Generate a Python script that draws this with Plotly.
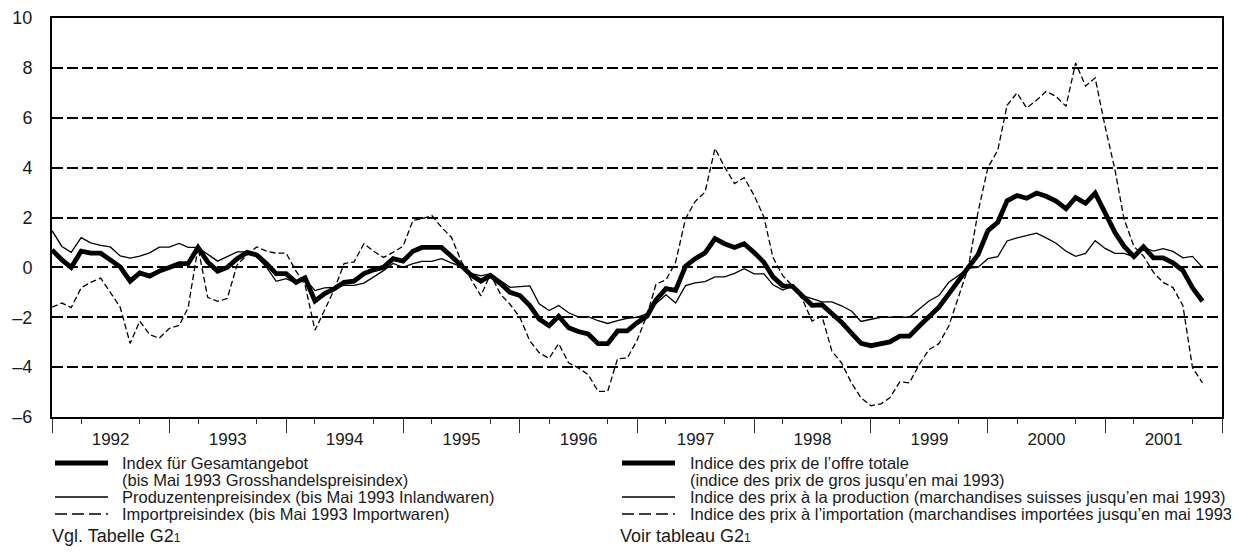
import pandas as pd
import plotly.graph_objects as go

# ---------------- data (monthly, Jan 1992 - Nov 2001, % change vs. previous year) -------------
start_month = "1992-01-01"

gesamtangebot = [
    0.70, 0.30, 0.00, 0.65, 0.57, 0.57, 0.30, 0.02, -0.55, -0.22, -0.35, -0.15,
    0.00, 0.15, 0.15, 0.80, 0.22, -0.15, 0.00, 0.35, 0.60, 0.50, 0.15, -0.25,
    -0.25, -0.60, -0.42, -1.35, -1.05, -0.85, -0.60, -0.55, -0.25, -0.10, 0.00, 0.35,
    0.25, 0.65, 0.80, 0.80, 0.80, 0.45, 0.05, -0.30, -0.55, -0.32, -0.65, -1.00,
    -1.13, -1.53, -2.07, -2.34, -1.96, -2.42, -2.57, -2.67, -3.06, -3.06, -2.55, -2.55,
    -2.22, -1.95, -1.30, -0.85, -0.92, 0.05, 0.35, 0.58, 1.15, 0.95, 0.80, 0.95,
    0.60, 0.20, -0.38, -0.74, -0.76, -1.18, -1.52, -1.50, -1.83, -2.20, -2.64, -3.05,
    -3.14, -3.06, -2.99, -2.76, -2.76, -2.35, -1.95, -1.60, -1.06, -0.50, 0.00, 0.50,
    1.47, 1.81, 2.67, 2.88, 2.77, 2.98, 2.85, 2.66, 2.35, 2.80, 2.57, 2.98,
    2.21, 1.40, 0.85, 0.43, 0.83, 0.38, 0.38, 0.18, -0.13, -0.82, -1.36,
]

produzenten = [
    1.47, 0.84, 0.60, 1.19, 0.98, 0.88, 0.82, 0.46, 0.37, 0.45, 0.58, 0.81,
    0.81, 0.96, 0.80, 0.80, 0.53, 0.25, 0.43, 0.62, 0.62, 0.43, 0.00, -0.56,
    -0.45, -0.64, -0.45, -0.93, -0.82, -0.80, -0.72, -0.72, -0.63, -0.38, -0.13, 0.16,
    0.00, 0.15, 0.24, 0.24, 0.35, 0.18, 0.03, -0.24, -0.34, -0.25, -0.53, -0.80,
    -0.77, -0.74, -1.46, -1.73, -1.53, -1.82, -1.98, -1.98, -2.14, -2.25, -2.14, -2.04,
    -2.00, -1.85, -1.45, -1.10, -1.43, -0.73, -0.62, -0.57, -0.38, -0.38, -0.24, -0.05,
    -0.26, -0.26, -0.70, -0.91, -0.75, -1.13, -1.25, -1.38, -1.38, -1.54, -1.75, -2.17,
    -2.08, -2.00, -2.00, -2.00, -2.00, -1.67, -1.35, -1.13, -0.60, -0.33, -0.03, 0.00,
    0.35, 0.43, 1.06, 1.18, 1.27, 1.37, 1.18, 0.97, 0.65, 0.44, 0.56, 1.07,
    0.76, 0.56, 0.56, 0.43, 0.80, 0.65, 0.75, 0.64, 0.38, 0.44, 0.00,
]

import_preise = [
    -1.60, -1.43, -1.61, -0.82, -0.60, -0.43, -1.00, -1.60, -3.05, -2.16, -2.70, -2.84,
    -2.45, -2.33, -1.62, 0.80, -1.20, -1.36, -1.25, 0.10, 0.50, 0.82, 0.65, 0.57,
    0.57, -0.15, -0.70, -2.52, -1.72, -0.86, 0.15, 0.22, 0.95, 0.65, 0.40, 0.60,
    0.85, 1.88, 1.95, 2.08, 1.61, 1.21, 0.27, -0.47, -1.14, -0.27, -1.07, -1.48,
    -2.01, -2.95, -3.42, -3.65, -3.06, -3.83, -4.03, -4.30, -4.97, -4.97, -3.66, -3.64,
    -2.92, -1.90, -0.67, -0.50, 0.20, 1.95, 2.64, 3.02, 4.77, 4.03, 3.36, 3.60,
    2.89, 2.01, 0.40, -0.34, -0.74, -1.28, -2.15, -1.95, -3.36, -3.83, -4.63, -5.23,
    -5.55, -5.47, -5.23, -4.59, -4.63, -3.89, -3.30, -3.06, -2.35, -1.21, 0.00, 2.20,
    4.00, 4.70, 6.50, 7.00, 6.39, 6.70, 7.06, 6.85, 6.46, 8.20, 7.27, 7.60,
    5.65, 3.90, 1.95, 0.84, 0.45, -0.20, -0.60, -0.81, -1.54, -4.03, -4.63,
]

y_ticks = [-6, -4, -2, 0, 2, 4, 6, 8, 10]

legend_de = [
    ["Index für Gesamtangebot", "(bis Mai 1993 Grosshandelspreisindex)"],
    ["Produzentenpreisindex (bis Mai 1993 Inlandwaren)"],
    ["Importpreisindex (bis Mai 1993 Importwaren)"],
]
legend_fr = [
    ["Indice des prix de l’offre totale", "(indice des prix de gros jusqu’en mai 1993)"],
    ["Indice des prix à la production (marchandises suisses jusqu’en mai 1993)"],
    ["Indice des prix à l’importation (marchandises importées jusqu’en mai 1993)"],
]
source_de = "Vgl. Tabelle G2<span style='font-size:12px'>1</span>"
source_fr = "Voir tableau G2<span style='font-size:12px'>1</span>"

# ---------------- figure ---------------------------------------------------------------------
dates = pd.date_range(start_month, periods=len(gesamtangebot), freq="MS")

OFF = 8                       # default page margin of the html body
W, H = 1239 - OFF, 553 - OFF
ML, MR, MT, MB = 52 - OFF, 17, 18 - OFF, 136
PW, PH = W - ML - MR, H - MT - MB

FONT = "Liberation Sans, Arial, sans-serif"
TXT = "#1a1a1a"

fig = go.Figure()
fig.add_trace(go.Scatter(x=dates, y=import_preise, mode="lines",
                         line=dict(color="black", width=1.3, dash="6px,3px"),
                         name="Importpreisindex", showlegend=False))
fig.add_trace(go.Scatter(x=dates, y=produzenten, mode="lines",
                         line=dict(color="black", width=1.3),
                         name="Produzentenpreisindex", showlegend=False))
fig.add_trace(go.Scatter(x=dates, y=gesamtangebot, mode="lines",
                         line=dict(color="black", width=4.8),
                         name="Index für Gesamtangebot", showlegend=False))


def px(x):
    """page pixel x -> paper coordinate"""
    return (x - OFF - ML) / PW


def py(y):
    """page pixel y -> paper coordinate"""
    return (OFF + MT + PH - y) / PH


shapes = []
annotations = []

# legend samples and texts (two language columns)
entry_y = [463, 497, 514]
line_gap = 17
styles = [dict(width=5, dash="solid"), dict(width=1.3, dash="solid"), dict(width=1.5, dash="12px,5px")]
for col_x0, col_tx, entries in [(55, 120, legend_de), (622, 688, legend_fr)]:
    for ey, st, lines in zip(entry_y, styles, entries):
        shapes.append(dict(type="line", xref="paper", yref="paper",
                           x0=px(col_x0), x1=px(col_x0 + 53), y0=py(ey), y1=py(ey),
                           line=dict(color="black", width=st["width"], dash=st["dash"])))
        for k, t in enumerate(lines):
            annotations.append(dict(xref="paper", yref="paper", x=px(col_tx),
                                    y=py(ey + k * line_gap),
                                    xanchor="left", yanchor="middle", align="left",
                                    text=t, showarrow=False,
                                    font=dict(family=FONT, size=16.5, color=TXT)))

for sx, st in [(50, source_de), (618, source_fr)]:
    annotations.append(dict(xref="paper", yref="paper", x=px(sx), y=py(536),
                            xanchor="left", yanchor="middle", align="left",
                            text=st, showarrow=False,
                            font=dict(family=FONT, size=18, color=TXT)))

fig.update_layout(
    width=W, height=H,
    margin=dict(l=ML, r=MR, t=MT, b=MB, pad=0, autoexpand=False),
    paper_bgcolor="white", plot_bgcolor="white",
    showlegend=False,
    shapes=shapes, annotations=annotations,
    font=dict(family=FONT, color=TXT),
)

fig.update_xaxes(
    type="date", automargin=False,
    range=["1992-01-01", "2002-01-01"],
    tick0="1992-01-01", dtick="M12",
    tickformat="%Y", ticklabelmode="period",
    ticks="outside", ticklen=14, tickwidth=1.3, tickcolor="#333",
    ticklabelstandoff=-8,
    tickfont=dict(family=FONT, size=17, color=TXT),
    minor=dict(tick0="1992-04-01", dtick="M6", ticks="outside", ticklen=5,
               tickwidth=1.3, tickcolor="#333", showgrid=False),
    showgrid=False, zeroline=False,
    showline=True, linecolor="black", linewidth=2, mirror=True,
)

fig.update_yaxes(
    automargin=False,
    range=[-6, 10], tickmode="array", tickvals=y_ticks,
    ticktext=[("–" + str(abs(v))) if v < 0 else str(v) for v in y_ticks],
    ticks="", ticklabelstandoff=14,
    tickfont=dict(family=FONT, size=18, color=TXT),
    showgrid=True, gridcolor="black", gridwidth=2, griddash="11px,4px",
    zeroline=False,
    showline=True, linecolor="black", linewidth=2, mirror=True,
)

fig.write_html("out.html")
